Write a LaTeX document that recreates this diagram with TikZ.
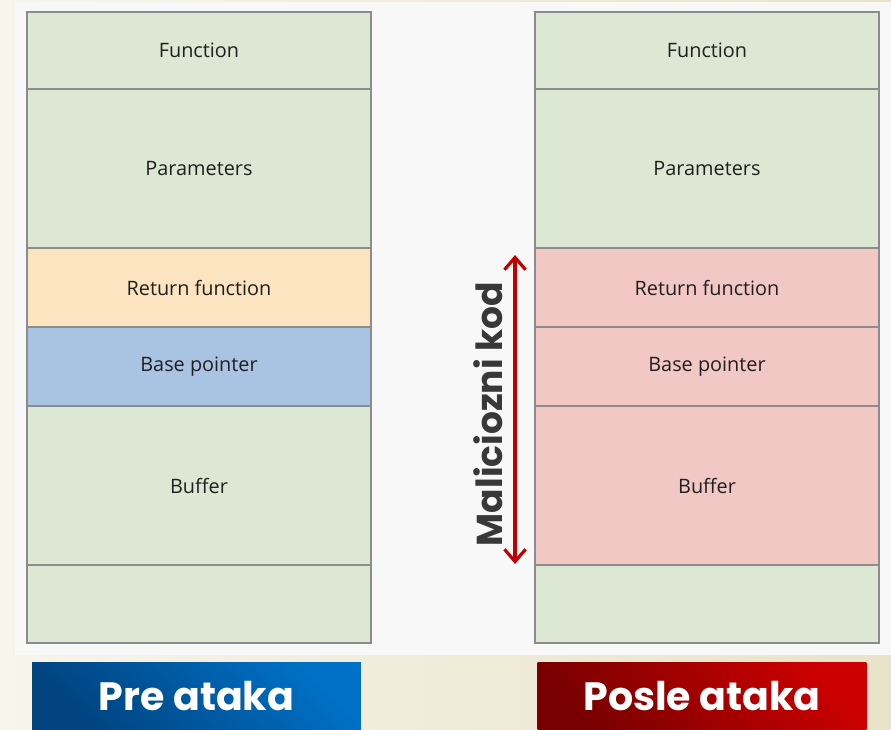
\documentclass[tikz,border=0pt]{standalone}
\usepackage{fontspec}
\setmainfont{Open Sans}
\newfontfamily\labelfont{Poppins}
\usetikzlibrary{arrows.meta}
\definecolor{cellgreen}{HTML}{DDE8D4}
\definecolor{cellyellow}{HTML}{FBE4BF}
\definecolor{cellblue}{HTML}{A9C3E3}
\definecolor{cellpink}{HTML}{F1C8C4}
\definecolor{cellline}{HTML}{8C8C8C}
\definecolor{panelgray}{HTML}{F8F8F8}
\definecolor{malred}{HTML}{C00000}
\definecolor{beigeA}{HTML}{F7F5EC}
\definecolor{beigeB}{HTML}{E9E3C9}
\definecolor{preA}{HTML}{00437F}
\definecolor{preB}{HTML}{0071C6}
\definecolor{posleA}{HTML}{780000}
\definecolor{posleB}{HTML}{CC0000}
\tikzset{
  cell/.style={draw=cellline, line width=0.9pt, minimum width=6.88cm, inner sep=0pt, outer sep=0pt, font=\fontsize{11.3}{13}\selectfont, text=black!88},
  tag/.style={minimum width=6.58cm, minimum height=1.36cm, inner sep=0pt, text=white, font=\labelfont\bfseries\fontsize{22.5}{26}\selectfont}
}
\begin{document}
\begin{tikzpicture}[x=0.02cm,y=-0.02cm]
\useasboundingbox (0,0) rectangle (891,729);
\shade[left color=beigeA, right color=beigeB] (0,0) rectangle (891,729);
\fill[panelgray] (15,2) rectangle (891,655);

%% nodes (before)
\node[cell, fill=cellgreen, minimum height=1.54cm] (BF) at (199,50.5) {Function};
\node[cell, fill=cellgreen, minimum height=3.18cm] (BP) at (199,168.5) {Parameters};
\node[cell, fill=cellyellow, minimum height=1.58cm] (BR) at (199,287.5) {Return function};
\node[cell, fill=cellblue, minimum height=1.58cm] (BB) at (199,366.5) {Base pointer};
\node[cell, fill=cellgreen, minimum height=3.18cm] (BU) at (199,485.5) {Buffer};
\node[cell, fill=cellgreen, minimum height=1.56cm] (BE) at (199,604) {};

%% nodes (after)
\node[cell, fill=cellgreen, minimum height=1.54cm] (AF) at (707,50.5) {Function};
\node[cell, fill=cellgreen, minimum height=3.18cm] (AP) at (707,168.5) {Parameters};
\node[cell, fill=cellpink, minimum height=1.58cm] (AR) at (707,287.5) {Return function};
\node[cell, fill=cellpink, minimum height=1.58cm] (AB) at (707,366.5) {Base pointer};
\node[cell, fill=cellpink, minimum height=3.18cm] (AU) at (707,485.5) {Buffer};
\node[cell, fill=cellgreen, minimum height=1.56cm] (AE) at (707,604) {};

%% labels
\node[tag, left color=preA, right color=preB, shading angle=135] (pre) at (196.5,696) {Pre ataka};
\node[tag, left color=posleA, right color=posleB, shading angle=135] (posle) at (702,696) {Posle ataka};
\node[rotate=90, text=black!78, font=\labelfont\bfseries\fontsize{20.5}{24}\selectfont] (mal) at (488,414) {Maliciozni kod};

%%% edges
\coordinate (mtop) at (515,255);
\coordinate (mbot) at (515,564);
\draw[malred, line width=1.8pt, {Straight Barb[length=7pt,width=12pt]}-{Straight Barb[length=7pt,width=12pt]}] (mtop) -- (mbot);
\end{tikzpicture}
\end{document}
